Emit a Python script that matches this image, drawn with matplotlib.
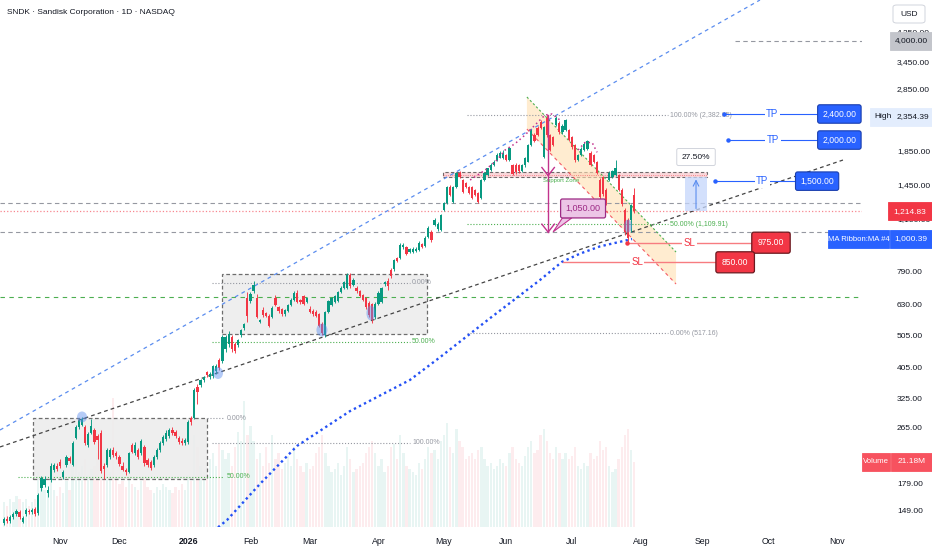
import numpy as np
import matplotlib
matplotlib.use("Agg")
import matplotlib.pyplot as plt
from matplotlib.patches import Polygon, Ellipse, Rectangle, FancyBboxPatch
from matplotlib.transforms import ScaledTranslation
from matplotlib.ticker import NullLocator

plt.rcParams['font.family'] = ['Liberation Sans', 'DejaVu Sans']

# ---------------- data ----------------
opens = [137,141,139,143,146,148,138,146,149,148,151,147,175,179,169,185,199,204,210,189,
         206,216,206,249,268,272,268,237,258,262,252,258,205,206,218,228,224,217,205,199,
         196,237,224,228,224,233,213,210,206,218,228,240,247,252,262,259,249,244,240,242,
         285,285,355,360,372,394,380,383,398,429,425,462,480,505,480,476,510,535,660,648,
         693,662,560,609,595,584,580,662,620,612,590,605,630,653,688,653,670,645,612,605,
         600,590,550,511,600,630,645,648,690,712,712,777,725,712,693,676,660,640,636,580,
         636,645,730,745,805,810,876,876,945,945,915,915,920,926,965,950,1015,1050,1104,1070,
         1066,1226,1290,1436,1300,1436,1590,1512,1480,1440,1440,1410,1385,1330,1512,1565,1621,1679,1739,1770,
         1760,1801,1739,1679,1679,1679,1610,1679,1720,1932,2072,2170,2270,1776,2340,2072,2040,2222,2260,2110,
         2145,2145,2040,1932,1739,1801,1865,1880,1830,1801,1710,1512,1540,1410,1512,1540,1565,1565,1410,1226,
         1143,1143,1360]
highs = [143,144,145,148,151,150,144,152,151,152,153,169,190,190,177,208,209,208,214,199,
         220,219,243,272,284,288,272,260,284,266,256,262,208,231,232,234,227,220,210,201,
         226,240,241,231,246,236,216,213,221,231,243,254,262,266,268,263,252,248,248,281,
         290,352,362,376,384,398,395,414,416,434,510,512,525,512,486,498,534,556,690,690,
         745,680,572,620,602,590,625,675,628,618,615,636,660,695,700,656,675,668,625,612,
         608,595,560,605,652,668,678,695,718,745,790,790,760,718,698,680,665,648,640,645,
         695,716,745,760,815,870,885,970,970,955,940,945,945,985,975,1020,1095,1066,1160,1125,
         1195,1300,1455,1460,1445,1600,1615,1525,1495,1450,1455,1420,1395,1520,1600,1650,1700,1740,1830,1850,
         1860,1820,1910,1690,1700,1690,1690,1780,1945,2160,2100,2200,2300,2210,2382.05,2090,2060,2370,2280,2230,
         2320,2160,2060,1950,1820,1900,1970,2000,1850,1820,1730,1530,1560,1430,1610,1620,1740,1580,1425,1240,
         1160,1280,1430]
lows = [135,137,137,141,144,141,137,144,146,146,144,145,172,176,164,183,196,197,201,186,
        203,209,204,246,264,270,237,234,255,239,215,194,186,203,215,217,215,204,197,192,
        194,223,221,215,221,205,203,199,203,215,225,237,244,249,254,249,238,236,236,239,
        272,283,315,355,368,380,376,378,390,400,420,455,470,455,450,470,505,530,560,640,
        688,575,555,580,578,540,575,625,598,585,585,600,625,648,640,635,630,640,598,585,
        580,540,510,505,595,625,640,643,685,707,705,710,718,688,668,648,615,580,555,570,
        630,640,720,700,762,800,850,870,935,895,905,905,912,920,938,945,1010,980,1095,1060,
        1055,1215,1280,1350,1290,1425,1530,1380,1430,1370,1320,1350,1290,1320,1500,1550,1610,1665,1725,1760,
        1750,1725,1730,1565,1575,1590,1600,1660,1710,1920,1970,2060,2160,1760,2050,1850,1920,2200,2090,2090,
        2130,1990,1880,1720,1725,1790,1850,1870,1665,1700,1575,1320,1350,1270,1500,1530,1555,1400,1260,1030,
        965,1050,1200]
closes = [141,139,143,146,149,143,142,150,148,150,146,167,188,186,173,205,206,200,204,196,
          218,212,240,268,280,284,240,256,270,242,245,197,200,228,228,220,219,207,199,196,
          224,226,237,218,243,208,206,202,218,228,240,250,258,262,258,252,241,240,245,278,
          278,348,343,372,381,386,390,410,412,406,505,505,515,462,458,493,529,550,585,680,
          725,580,567,588,584,546,616,630,605,590,609,630,653,688,645,642,635,660,600,590,
          585,545,520,600,648,660,670,690,712,738,777,718,751,693,672,653,620,588,567,636,
          688,710,738,718,770,864,858,959,959,900,930,935,935,975,945,1010,1080,993,1143,1115,
          1184,1290,1436,1361,1436,1590,1545,1395,1440,1385,1330,1361,1300,1512,1590,1640,1679,1720,1801,1830,
          1830,1739,1890,1580,1600,1610,1679,1770,1932,2145,1980,2072,2170,2193,2072,1865,1932,2340,2110,2210,
          2300,2001,1900,1739,1801,1880,1950,1985,1679,1710,1590,1340,1370,1290,1590,1610,1650,1410,1275,1050,
          1010,1269,1214.83]
volumes = [8,7,9,8,10,9,8,9,7,8,9,
           18,14,12,11,16,12,10,13,11,15,
           12,20,22,18,20,22,17,19,20,24,
           32,26,20,18,42,16,14,15,13,18,
           14,13,12,15,16,13,12,11,13,12,
           14,13,12,11,13,12,14,12,17,15,
           30,26,20,18,16,22,24,20,27,25,
           22,24,20,26,31,28,41,30,33,28,
           22,24,20,26,21,30,22,24,19,21,
           23,20,26,22,20,18,21,19,20,24,
           26,30,24,20,18,19,21,17,20,26,
           22,18,19,20,21,24,26,28,24,20,
           22,18,20,26,27,22,30,24,20,19,
           18,17,21,19,22,26,24,25,22,28,
           30,34,26,24,32,28,26,22,23,24,
           22,25,26,22,20,21,19,20,22,21,
           20,24,26,22,21,20,23,26,28,24,
           25,30,32,28,24,22,26,24,22,24,
           22,23,26,20,19,21,20,24,22,23,
           28,25,26,20,18,19,22,26,30,32,25,21.18]

ma_bars = [68.6, 71.5, 82, 93.9, 110.9, 130.1, 139.7, 155.8, 171.8, 178.8, 184.6, 191, 201.3]
ma_values = [133, 140, 180, 235, 300, 373, 437, 575, 751, 852, 903, 950, 1000.39]

month_labels = ["Nov", "Dec", "2026", "Feb", "Mar", "Apr", "May", "Jun", "Jul", "Aug", "Sep", "Oct", "Nov"]
month_bars = [18, 37, 59, 79, 98, 120, 141, 161, 182, 204, 224, 245, 267]

price_ticks = [4250, 3450, 2850, 1850, 1450, 1150, 950, 790, 630, 505, 405, 325, 265, 179, 149]
price_tick_labels = ["4,250.00", "3,450.00", "2,850.00", "1,850.00", "1,450.00", "1,150.00", "950.00",
                     "790.00", "630.00", "505.00", "405.00", "325.00", "265.00", "179.00", "149.00"]

tp_levels = [2400, 2000, 1500]
tp_labels = ["2,400.00", "2,000.00", "1,500.00"]
sl_levels = [975, 850]
sl_labels = ["975.00", "850.00"]
fib_big = [2382.05, 1109.91, 517.16]
fib_big_labels = ["100.00% (2,382.05)", "50.00% (1,109.91)", "0.00% (517.16)"]
last_price = 1214.83
high_price = 2354.39
ma_last = 1000.39
last_volume = 21.18

# ---------------- figure ----------------
W, H = 932, 550
UP, DN = '#089981', '#f23645'
TXT = '#131722'
fig = plt.figure(figsize=(W / 100, H / 100), dpi=100)
fig.patch.set_facecolor('white')
rect = [0, 23 / H, 862 / W, 527 / H]
axv = fig.add_axes(rect)
ax = fig.add_axes(rect)
ax.set_facecolor('none')
XMIN, XMAX = -1.28, 275.0
YMIN, YMAX = 133.3, 5330

idx = np.arange(len(closes))
o = np.array(opens, float); c = np.array(closes, float)
h = np.array(highs, float); l = np.array(lows, float)
up = c >= o
cols = np.where(up, UP, DN)

# volume
axv.bar(idx, volumes, width=0.75, color=cols, alpha=0.09, linewidth=0)
axv.set_xlim(XMIN, XMAX)
axv.set_ylim(0, 171.7)
axv.axis('off')

ax.set_yscale('log')
ax.set_xlim(XMIN, XMAX)
ax.set_ylim(YMIN, YMAX)
for s in ax.spines.values():
    s.set_visible(False)
ax.yaxis.set_major_locator(NullLocator())
ax.yaxis.set_minor_locator(NullLocator())
ax.set_xticks(month_bars)
ax.set_xticklabels(month_labels)
ax.tick_params(axis='x', length=0, pad=7, labelsize=6.3, colors=TXT)
for t in ax.get_xticklabels():
    if t.get_text() == '2026':
        t.set_fontweight('bold')

def hline(price, b0, b1, color, ls, lw=0.8, z=2, alpha=1.0):
    ax.plot([b0, b1], [price, price], color=color, ls=ls, lw=lw, zorder=z, alpha=alpha)

# --- consolidation boxes ---
def dbox(b0, b1, p0, p1):
    poly = Polygon([[b0, p0], [b1, p0], [b1, p1], [b0, p1]], closed=True, fc='#ececec', ec='#555555',
                   lw=0.9, ls=(0, (3, 2)), alpha=0.85, zorder=1)
    ax.add_patch(poly)

dbox(9.3, 65.0, 186.6, 285.8)
dbox(69.9, 135.6, 514.6, 783.2)

GRAYD = '#9598a1'
GREEN = '#4caf50'
# small fibs
hline(285.8, 65.0, 70.5, GRAYD, ':', 0.8)
ax.text(71.5, 285.8, "0.00%", fontsize=5, color=GRAYD, va='center', ha='left')
hline(189.2, 4.5, 70.5, GREEN, ':', 0.8)
ax.text(71.5, 189.2, "50.00%", fontsize=5, color=GREEN, va='center', ha='left')
hline(240.0, 66.7, 130.1, GRAYD, ':', 0.8)
ax.text(130.8, 240.0, "100.00%", fontsize=5, color=GRAYD, va='center', ha='left')
hline(735.4, 66.7, 130.1, GRAYD, ':', 0.8)
ax.text(130.8, 735.4, "0.00%", fontsize=5, color=GRAYD, va='center', ha='left')
hline(486.7, 66.7, 130.1, GREEN, ':', 0.8)
ax.text(130.8, 486.7, "50.00%", fontsize=5, color=GREEN, va='center', ha='left')

# horizontal full-width levels
hline(666.6, XMIN, XMAX, GREEN, (0, (4, 4)), 0.8)
hline(1050, XMIN, XMAX, GRAYD, (0, (4, 3)), 0.8)
hline(1290, XMIN, XMAX, GRAYD, (0, (4, 3)), 0.8)
hline(last_price, XMIN, XMAX, DN, ':', 0.9, alpha=0.6)
hline(4000, 234.3, XMAX, GRAYD, (0, (4, 3)), 0.8)

# support zone
sz = Polygon([[140.7, 1544], [225.3, 1544], [225.3, 1599], [140.7, 1599]], closed=True,
             fc='#f8c6cb', ec='#333333', lw=0.8, ls=(0, (3, 2)), alpha=0.7, zorder=1)
ax.add_patch(sz)
hline(1571, 140.7, 225.3, DN, ':', 0.6, alpha=0.7)
ax.text(172.8, 1512, "Support Zone", fontsize=4.3, color=GREEN, va='center', ha='left', zorder=6)

# trend lines
ax.plot([-1.28, 242.3], [262.8, 5330], color='#5b8def', ls=(0, (3, 3)), lw=0.9, zorder=2)
ax.plot([-1.28, 268.9], [233.4, 1739], color='#444444', ls=(0, (3, 2.5)), lw=0.9, zorder=2)

# descending orange channel
ch_top = [[167.6, 2703], [215.4, 913.3]]
ch_bot = [[167.6, 2160], [215.4, 730.2]]
ax.add_patch(Polygon([ch_top[0], ch_top[1], ch_bot[1], ch_bot[0]], closed=True, fc='#ffe0b2',
                     ec='none', alpha=0.6, zorder=1.5))
ax.plot([p[0] for p in ch_top], [p[1] for p in ch_top], color=GREEN, ls=(0, (2, 2)), lw=0.8, zorder=2)
ax.plot([p[0] for p in ch_bot], [p[1] for p in ch_bot], color=DN, ls=(0, (3, 3)), lw=0.8, zorder=2, alpha=0.8)

# candles
ax.vlines(idx, l, h, colors=cols, lw=0.65, zorder=3)
bot = np.minimum(o, c)
top = np.maximum(np.maximum(o, c), bot * 1.004)
ax.bar(idx, top - bot, bottom=bot, width=0.72, color=cols, linewidth=0, zorder=4)

# moving average (MA Ribbon MA #4)
ax.plot(ma_bars, ma_values, color='#2451f5', ls=(0, (1, 1.4)), lw=1.7, zorder=4.5)

# magenta dotted arcs
arc1_b = [149.4, 154.2, 158.0, 160.6, 163.8, 167.0, 170.2, 173.4, 175.6, 178.2]
arc1_p = [1512, 1621, 1739, 1865, 1950, 2072, 2222, 2383, 2400, 2301]
ax.plot(arc1_b, arc1_p, color='#c2338e', ls=(0, (1, 2)), lw=1.1, zorder=5)
arc2_b = [184.0, 186.2, 188.5, 190.1]
arc2_p = [1865, 1966, 1966, 1835]
ax.plot(arc2_b, arc2_p, color='#c2338e', ls=(0, (1, 2)), lw=1.1, zorder=5)

# blue touch circles
def blob(bar, price, w_px, h_px):
    e = Ellipse((0, 0), w_px / 100, h_px / 100,
                transform=fig.dpi_scale_trans + ScaledTranslation(bar, price, ax.transData),
                fc='#5b8def', alpha=0.45, ec='none', zorder=5)
    ax.add_patch(e)

blob(25, 287.9, 10, 11)
blob(68.6, 391.7, 10, 12)
blob(101.9, 529, 11, 13)
blob(117.6, 596, 9, 15)
blob(200, 1096, 8, 13)

# magenta price-range arrow
MAG = '#c2338e'
ax.plot([174.4, 174.4], [2382.05, 1050], color=MAG, lw=1.0, zorder=5)
ax.plot([172.4, 174.4, 176.4], [1650, 1560, 1650], color=MAG, lw=1.0, zorder=5)
ax.plot([172.4, 174.4, 176.4], [1110, 1050, 1110], color=MAG, lw=1.0, zorder=5)
ax.add_patch(Polygon([[179.0, 1160], [182.0, 1160], [176.0, 1052]], closed=True, fc='#ecc5e6',
                     ec=MAG, lw=0.8, zorder=6))
ax.text(185.6, 1239, "1,050.00", fontsize=6.5, color='#9c2a84', ha='center', va='center', zorder=7,
        bbox=dict(boxstyle='round,pad=0.55,rounding_size=0.2', fc='#ecc5e6', ec='#9c2a84', lw=0.9))

# big fib (log)
for lvl, lab, colr in zip(fib_big, fib_big_labels, [GRAYD, GREEN, GRAYD]):
    hline(lvl, 148.4, 212.8, colr, ':', 0.8)
    ax.text(213.5, lvl, lab, fontsize=5, color=colr, va='center', ha='left')

# 27.50% measure
ax.add_patch(Polygon([[218.3, last_price], [225.3, last_price], [225.3, 1549], [218.3, 1549]], closed=True,
                     fc='#c5d6fb', ec='none', alpha=0.75, zorder=2))
ax.annotate('', xy=(221.8, 1549), xytext=(221.8, last_price),
            arrowprops=dict(arrowstyle='->', color='#5b8def', lw=0.8), zorder=3)
ax.text(221.8, 1776, "27.50%", fontsize=6, color=TXT, ha='center', va='center', zorder=7,
        bbox=dict(boxstyle='round,pad=0.6,rounding_size=0.2', fc='white', ec='#d1d4dc', lw=0.7))

# TP lines
BLUE = '#2962ff'
tp_start = [230.8, 232.1, 227.9]
tp_end = [260.9, 260.9, 253.8]
tp_text = [246.2, 246.5, 243.0]
for lvl, lab, b0, b1, bt in zip(tp_levels, tp_labels, tp_start, tp_end, tp_text):
    ax.plot([b0, b1], [lvl, lvl], color=BLUE, lw=0.8, zorder=5)
    ax.plot([b0], [lvl], 'o', ms=2.2, color=BLUE, zorder=6)
    ax.text(bt, lvl, "TP", fontsize=7, color=BLUE, ha='center', va='center', zorder=6,
            bbox=dict(boxstyle='square,pad=0.15', fc='white', ec='none'))
    ax.text(b1 + 1.4, lvl, lab, fontsize=6.2, color='white', ha='left', va='center', zorder=8,
            bbox=dict(boxstyle='round,pad=0.55,rounding_size=0.25', fc=BLUE, ec='#1b3fae', lw=0.8))

# SL lines
sl_start = [199.7, 179.2]
sl_end = [239.7, 228.2]
sl_text = [219.6, 202.9]
for lvl, lab, b0, b1, bt in zip(sl_levels, sl_labels, sl_start, sl_end, sl_text):
    ax.plot([b0, b1], [lvl, lvl], color='#f77c80', lw=1.0, zorder=5)
    ax.text(bt, lvl, "SL", fontsize=7, color=DN, ha='center', va='center', zorder=6,
            bbox=dict(boxstyle='square,pad=0.15', fc='white', ec='none'))
    ax.text(b1 + 1.9, lvl, lab, fontsize=6.2, color='white', ha='left', va='center', zorder=8,
            bbox=dict(boxstyle='round,pad=0.7,rounding_size=0.25', fc=DN, ec='#6b1a20', lw=0.9))
ax.plot([sl_start[0]], [sl_levels[0]], 'o', ms=2.2, color=DN, zorder=6)

# ---------------- right price scale ----------------
def fy(price):
    return ax.transData.transform((0, price))[1] / H

for p, lab in zip(price_ticks, price_tick_labels):
    fig.text(897 / W, fy(p), lab, fontsize=6, color=TXT, va='center', ha='left', zorder=3)

def axis_box(yc, text, fc, tc, x0, x1, ec=None, fs=6):
    hh = 18 / H
    fig.add_artist(Rectangle((x0 / W, yc - hh / 2), (x1 - x0) / W, hh, transform=fig.transFigure,
                             facecolor=fc, edgecolor=ec or fc, lw=0.6, zorder=5))
    fig.text((x0 + x1) / 2 / W, yc, text, fontsize=fs, color=tc, ha='center', va='center', zorder=6)

axis_box(fy(4000), "4,000.00", '#c3c5cb', TXT, 890, 932)
axis_box(fy(high_price), "", '#e3edfd', TXT, 870, 932)
fig.text(874 / W, fy(high_price), "High", fontsize=6, color=TXT, ha='left', va='center', zorder=6)
fig.text(897 / W, fy(high_price), "2,354.39", fontsize=6, color=TXT, ha='left', va='center', zorder=6)
axis_box(fy(last_price), "1,214.83", DN, 'white', 888, 932)
axis_box(fy(ma_last), "MA Ribbon:MA #4", BLUE, 'white', 828, 889, fs=5.6)
axis_box(fy(ma_last), "1,000.39", BLUE, 'white', 890, 932)
yv = axv.transData.transform((0, last_volume))[1] / H
axis_box(yv, "Volume", '#f7525f', 'white', 862, 890, fs=5.6)
axis_box(yv, "21.18M", '#f7525f', 'white', 891, 932)

fig.add_artist(FancyBboxPatch((893 / W, 1 - 23 / H), 32 / W, 18 / H, boxstyle='round,pad=0,rounding_size=0.004',
                              transform=fig.transFigure, fc='white', ec='#d1d4dc', lw=0.7, zorder=5))
fig.text(909 / W, 1 - 14 / H, "USD", fontsize=6, color=TXT, ha='center', va='center', zorder=6)

fig.text(7 / W, 1 - 13 / H, "SNDK \u00b7 Sandisk Corporation \u00b7 1D \u00b7 NASDAQ", fontsize=6,
         color=TXT, ha='left', va='center')

fig.savefig("out.png", dpi=100)
